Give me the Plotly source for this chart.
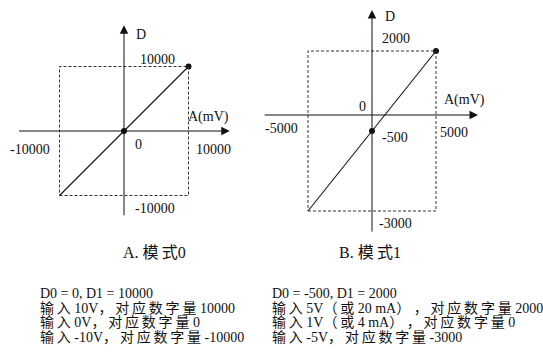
"""
Two analogue-to-digital scaling diagrams (mode 0 and mode 1) drawn with Plotly.
"""
import plotly.graph_objects as go

# mode 0: input A (mV) -> digital value D
a_input = [-10000, 0, 10000]
a_digital = [-10000, 0, 10000]
a_marked = [1, 2]  # indices of the dots

# mode 1
b_input = [-5000, 0, 5000]
b_digital = [-3000, -500, 2000]
b_marked = [1, 2]

titles = ["A. 模式0", "B. 模式1"]

notes_a = [
    "D0 = 0, D1 = 10000",
    "输入 10V，对应数字量 10000",
    "输入 0V，对应数字量 0",
    "输入 -10V，对应数字量 -10000",
]
notes_b = [
    "D0 = -500, D1 = 2000",
    "输入 5V（或 20 mA） ，对应数字量 2000",
    "输入 1V（或 4 mA） ，对应数字量 0",
    "输入 -5V，对应数字量 -3000",
]

W, H = 543, 360
SERIF = "Liberation Serif, Times New Roman, Noto Sans CJK SC, serif"
INK = "#111111"


def is_cjk(ch):
    o = ord(ch)
    return 0x2E80 <= o <= 0x9FFF or 0xFF00 <= o <= 0xFFEF


def loosen(text):
    # the source sets its CJK characters with a little tracking
    out = ""
    for i, ch in enumerate(text):
        out += ch
        if i + 1 < len(text) and is_cjk(ch) and is_cjk(text[i + 1]):
            out += "\u2009"
    return out


fig = go.Figure()


def add_panel(fig, xs, ys, marked, xa, ya, axis_x, axis_y, labels):
    # dashed frame round the input/output span
    fig.add_shape(type="rect", xref=xa, yref=ya,
                  x0=xs[0], x1=xs[-1], y0=ys[0], y1=ys[-1],
                  line=dict(color="#333333", width=1, dash="3px,2px"))
    # axes with arrow heads
    fig.add_annotation(xref=xa, yref=ya, axref=xa, ayref=ya,
                       x=axis_x[1], y=0, ax=axis_x[0], ay=0, text="",
                       showarrow=True, arrowhead=2, arrowsize=1.7,
                       arrowwidth=1, arrowcolor=INK)
    fig.add_annotation(xref=xa, yref=ya, axref=xa, ayref=ya,
                       x=0, y=axis_y[1], ax=0, ay=axis_y[0], text="",
                       showarrow=True, arrowhead=2, arrowsize=1.7,
                       arrowwidth=1, arrowcolor=INK)
    # transfer line and dots
    fig.add_trace(go.Scatter(x=xs, y=ys, mode="lines",
                             line=dict(color=INK, width=1.1),
                             xaxis=xa, yaxis=ya, hoverinfo="skip"))
    fig.add_trace(go.Scatter(x=[xs[i] for i in marked], y=[ys[i] for i in marked],
                             mode="markers", marker=dict(color=INK, size=6),
                             xaxis=xa, yaxis=ya))
    for text, x, y, anchor, dx, dy in labels:
        fig.add_annotation(xref=xa, yref=ya, x=x, y=y, text=text,
                           showarrow=False, xanchor=anchor, yanchor="middle",
                           xshift=dx, yshift=dy,
                           font=dict(family=SERIF, size=14, color=INK))


# panel A
ax_a = (-16500, 16400)
ay_a = (-13300, 16400)
add_panel(fig, a_input, a_digital, a_marked, "x", "y", ax_a, ay_a, [
    ("D", 0, ay_a[1], "left", 10, -9),
    (str(a_digital[-1]), 0, a_digital[-1], "left", 14, 7),
    ("A(mV)", ax_a[1], 0, "right", 1, 14),
    (str(a_input[0]), a_input[0], 0, "right", -8, -18),
    ("0", 0, 0, "left", 9, -13),
    (str(a_input[-1]), a_input[-1], 0, "left", 5, -18),
    (str(a_digital[0]), 0, a_digital[0], "left", 9, -13),
])

# panel B
ax_b = (-8500, 8280)
ay_b = (-3690, 3280)
add_panel(fig, b_input, b_digital, b_marked, "x2", "y2", ax_b, ay_b, [
    ("D", 0, ay_b[1], "left", 11, -6),
    (str(b_digital[-1]), 0, b_digital[-1], "left", 8, 13),
    ("A(mV)", ax_b[1], 0, "right", 9, 15),
    ("0", 0, 0, "right", -4, 9),
    (str(b_input[0]), b_input[0], 0, "right", -8, -13),
    (str(b_digital[1]), 0, b_digital[1], "left", 8, -6),
    (str(b_input[-1]), b_input[-1], 0, "left", 2, -17),
    (str(b_digital[0]), 0, b_digital[0], "left", 5, -12),
])

# panel captions
for text, cx in zip(titles, [154, 370]):
    fig.add_annotation(xref="paper", yref="paper", x=cx / W, y=1 - 253 / H,
                       text=loosen(text), showarrow=False, xanchor="center",
                       yanchor="middle", font=dict(family=SERIF, size=16, color=INK))

# explanatory notes under the diagrams
for block, left in [(notes_a, 38), (notes_b, 270)]:
    for i, line in enumerate(block):
        fig.add_annotation(xref="paper", yref="paper", x=left / W,
                           y=1 - (293 + i * 14.7) / H, text=loosen(line),
                           showarrow=False, xanchor="left", yanchor="middle",
                           font=dict(family=SERIF, size=14, color=INK))

split = 270 / W
fig.update_layout(
    width=W, height=H,
    margin=dict(l=0, r=0, t=0, b=0),
    paper_bgcolor="white", plot_bgcolor="white",
    xaxis=dict(domain=[0, split], range=[-19225, 22636], visible=False, fixedrange=True),
    yaxis=dict(domain=[0, 1], range=[-35504, 20310], visible=False, fixedrange=True),
    xaxis2=dict(domain=[split, 1], range=[-7969, 13359], visible=False, fixedrange=True),
    yaxis2=dict(domain=[0, 1], range=[-7656, 3594], visible=False, fixedrange=True,
                anchor="x2"),
    showlegend=False,
)

fig.write_html("out.html", config=dict(displayModeBar=False),
               post_script="document.body.style.margin='0';")
